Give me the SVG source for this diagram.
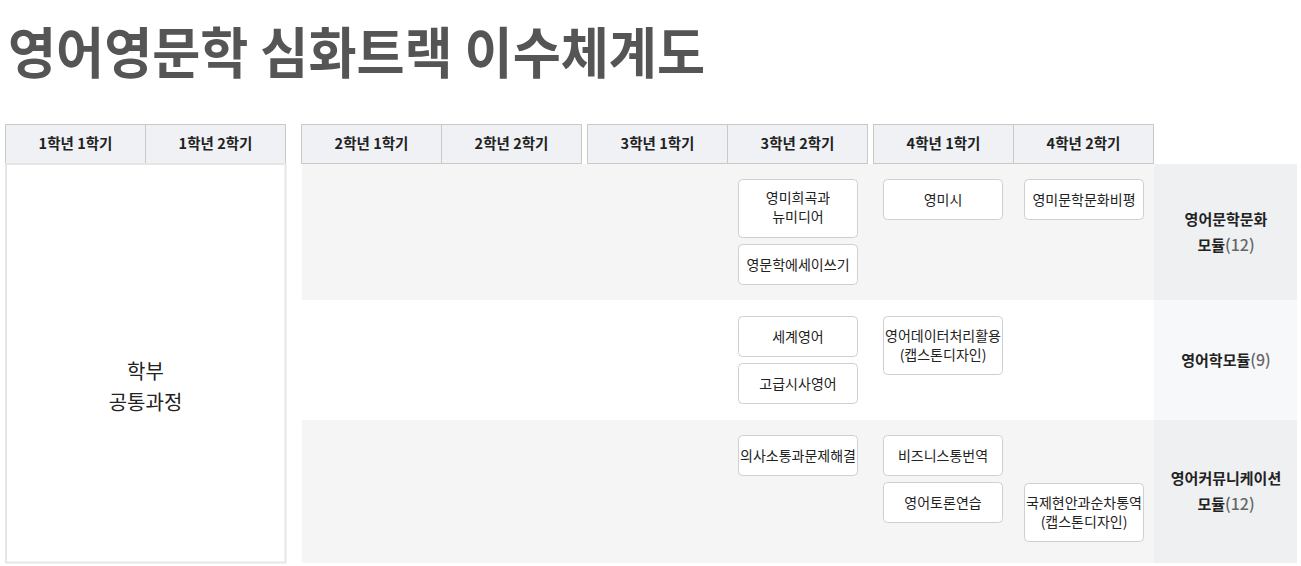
<svg xmlns="http://www.w3.org/2000/svg" width="1301" height="566" viewBox="0 0 1301 566">
<style>
text{font-family:"Noto Sans CJK KR","Noto Sans",sans-serif;}
.title{font-size:55px;font-weight:700;fill:#555555;}
.hd{fill:#f0f1f5;stroke:#c9c9c9;stroke-width:1;}
.ht{font-size:14.5px;font-weight:700;fill:#222;text-anchor:middle;}
.box{fill:#ffffff;stroke:#cfcfcf;stroke-width:1;}
.ct{font-size:14px;fill:#222;text-anchor:middle;}
.lt{font-size:15px;font-weight:700;fill:#222;text-anchor:middle;}
.num{font-weight:500;fill:#666;font-size:16px;}
.pt{font-size:20px;fill:#222;text-anchor:middle;}
</style>
<rect width="1301" height="566" fill="#ffffff"/>
<text class="title" x="8" y="73" textLength="697" lengthAdjust="spacingAndGlyphs">영어영문학 심화트랙 이수체계도</text>

<g id="bands">
<rect x="302" y="164" width="852" height="136" fill="#f5f5f5"/>
<rect x="302" y="420" width="852" height="143" fill="#f5f5f5"/>
<rect x="1154" y="164" width="143" height="136" fill="#eff0f2"/>
<rect x="1154" y="300" width="143" height="120" fill="#f7f8fa"/>
<rect x="1154" y="420" width="143" height="143" fill="#eff0f2"/>
</g>

<g id="header">
<rect class="hd" x="5.5" y="124.5" width="140" height="39"/>
<rect class="hd" x="145.5" y="124.5" width="140" height="39"/>
<rect class="hd" x="301.5" y="124.5" width="140" height="39"/>
<rect class="hd" x="441.5" y="124.5" width="140" height="39"/>
<rect class="hd" x="587.5" y="124.5" width="140" height="39"/>
<rect class="hd" x="727.5" y="124.5" width="140" height="39"/>
<rect class="hd" x="873.5" y="124.5" width="140" height="39"/>
<rect class="hd" x="1013.5" y="124.5" width="140" height="39"/>
<text class="ht" x="75.5" y="149">1학년 1학기</text>
<text class="ht" x="215.5" y="149">1학년 2학기</text>
<text class="ht" x="371.5" y="149">2학년 1학기</text>
<text class="ht" x="511.5" y="149">2학년 2학기</text>
<text class="ht" x="657.5" y="149">3학년 1학기</text>
<text class="ht" x="797.5" y="149">3학년 2학기</text>
<text class="ht" x="943.5" y="149">4학년 1학기</text>
<text class="ht" x="1083.5" y="149">4학년 2학기</text>
</g>

<g id="common">
<rect x="6" y="164" width="279.5" height="398.5" fill="#ffffff" stroke="#e6e6e6" stroke-width="2"/>
<text class="pt" x="145.5" y="379">학부</text>
<text class="pt" x="145.5" y="410">공통과정</text>
</g>

<g id="c1"><rect class="box" x="738.5" y="179.5" width="119" height="58" rx="4"/>
<text class="ct" x="798" y="203">영미희곡과</text><text class="ct" x="798" y="222">뉴미디어</text></g>
<g id="c2"><rect class="box" x="738.5" y="244.5" width="119" height="40" rx="4"/>
<text class="ct" x="798" y="270">영문학에세이쓰기</text></g>
<g id="c3"><rect class="box" x="883.5" y="179.5" width="119" height="40" rx="4"/>
<text class="ct" x="943" y="205">영미시</text></g>
<g id="c4"><rect class="box" x="1024.5" y="179.5" width="119" height="40" rx="4"/>
<text class="ct" x="1084" y="205">영미문학문화비평</text></g>

<g id="c5"><rect class="box" x="738.5" y="316.5" width="119" height="40" rx="4"/>
<text class="ct" x="798" y="342">세계영어</text></g>
<g id="c6"><rect class="box" x="738.5" y="363.5" width="119" height="40" rx="4"/>
<text class="ct" x="798" y="389">고급시사영어</text></g>
<g id="c7"><rect class="box" x="883.5" y="316.5" width="119" height="58" rx="4"/>
<text class="ct" x="943" y="341">영어데이터처리활용</text><text class="ct" x="943" y="360">(캡스톤디자인)</text></g>

<g id="c8"><rect class="box" x="738.5" y="435.5" width="119" height="40" rx="4"/>
<text class="ct" x="798" y="461">의사소통과문제해결</text></g>
<g id="c9"><rect class="box" x="883.5" y="435.5" width="119" height="40" rx="4"/>
<text class="ct" x="943" y="461">비즈니스통번역</text></g>
<g id="c10"><rect class="box" x="883.5" y="482.5" width="119" height="40" rx="4"/>
<text class="ct" x="943" y="508">영어토론연습</text></g>
<g id="c11"><rect class="box" x="1024.5" y="483.5" width="119" height="58" rx="4"/>
<text class="ct" x="1084" y="508">국제현안과순차통역</text><text class="ct" x="1084" y="527">(캡스톤디자인)</text></g>

<g id="m1"><text class="lt" x="1226" y="225">영어문학문화</text>
<text class="lt" x="1226" y="251">모듈<tspan class="num">(12)</tspan></text></g>
<g id="m2"><text class="lt" x="1226" y="366">영어학모듈<tspan class="num">(9)</tspan></text></g>
<g id="m3"><text class="lt" x="1226" y="484">영어커뮤니케이션</text>
<text class="lt" x="1226" y="510">모듈<tspan class="num">(12)</tspan></text></g>

<g id="connectors"></g>
</svg>
